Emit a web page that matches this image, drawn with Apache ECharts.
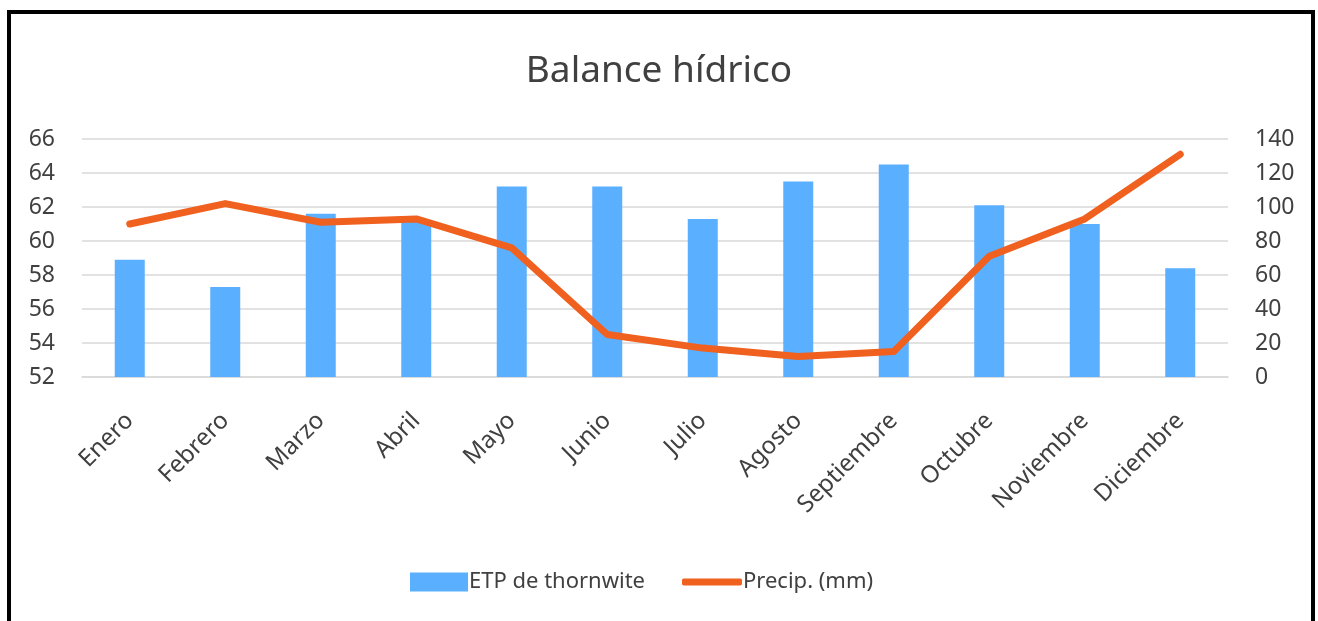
<!DOCTYPE html>
<html>
<head>
<meta charset="utf-8">
<script src="https://cdn.jsdelivr.net/npm/echarts@6/dist/echarts.min.js"></script>
<style>
  html, body { margin: 0; padding: 0; background: #fff; }
  #chart { width: 1318px; height: 621px; }
</style>
</head>
<body>
<div id="chart"></div>
<script>
// Monthly water balance: Thornthwaite PET (bars, left axis) and precipitation (line, right axis)
const months = ['Enero', 'Febrero', 'Marzo', 'Abril', 'Mayo', 'Junio', 'Julio',
                'Agosto', 'Septiembre', 'Octubre', 'Noviembre', 'Diciembre'];
const etp = [58.9, 57.3, 61.6, 61.2, 63.2, 63.2, 61.3, 63.5, 64.5, 62.1, 61.0, 58.4];
const precip = [90, 102, 91, 93, 76, 25, 17, 12, 15, 71, 93, 131];
const leftTicks = { min: 52, max: 66, step: 2 };
const rightTicks = { min: 0, max: 140, step: 20 };

const FONT = '"Noto Sans", "Open Sans", sans-serif';
const BLUE = '#5BAFFF';
const ORANGE = '#F0601F';
const TEXT = '#404040';

const chart = echarts.init(document.getElementById('chart'), null, { renderer: 'canvas' });

chart.setOption({
  backgroundColor: '#ffffff',
  animation: false,
  title: {
    text: 'Balance hídrico',
    left: 'center',
    top: 48,
    textStyle: { fontFamily: FONT, fontSize: 37, fontWeight: 'normal', color: TEXT }
  },
  graphic: [{
    type: 'rect',
    shape: { x: 9, y: 12, width: 1304, height: 640 },
    style: { fill: 'none', stroke: '#000', lineWidth: 4 },
    silent: true
  }],
  legend: [{
    left: 405, top: 566,
    itemWidth: 58, itemHeight: 19, itemGap: 20,
    data: [{ name: 'ETP de thornwite', icon: 'rect' }],
    textStyle: { fontFamily: FONT, fontSize: 22, color: TEXT, padding: [0, 0, 0, -4] }
  }, {
    left: 677, top: 566,
    itemWidth: 60, itemHeight: 7, itemGap: 20,
    data: [{ name: 'Precip. (mm)', icon: 'roundRect' }],
    textStyle: { fontFamily: FONT, fontSize: 22, color: TEXT, padding: [0, 0, 0, -4] }
  }],
  grid: { left: 82, right: 90, top: 139, bottom: 244, containLabel: false },
  xAxis: {
    type: 'category',
    data: months,
    axisLine: { lineStyle: { color: '#D9D9D9', width: 1.5 } },
    axisTick: { show: false },
    axisLabel: {
      rotate: 45, interval: 0, margin: 40,
      fontFamily: FONT, fontSize: 24, color: TEXT
    }
  },
  yAxis: [{
    type: 'value',
    min: leftTicks.min, max: leftTicks.max, interval: leftTicks.step,
    axisLine: { show: false }, axisTick: { show: false },
    splitLine: { lineStyle: { color: '#D9D9D9', width: 1.5 } },
    axisLabel: { fontFamily: FONT, fontSize: 23, color: TEXT, margin: 27, align: 'right' }
  }, {
    type: 'value',
    min: rightTicks.min, max: rightTicks.max, interval: rightTicks.step,
    axisLine: { show: false }, axisTick: { show: false },
    splitLine: { show: false },
    axisLabel: { fontFamily: FONT, fontSize: 23, color: TEXT, margin: 27, align: 'left' }
  }],
  series: [{
    name: 'ETP de thornwite',
    type: 'bar',
    yAxisIndex: 0,
    data: etp,
    barWidth: 30,
    itemStyle: { color: BLUE }
  }, {
    name: 'Precip. (mm)',
    type: 'line',
    yAxisIndex: 1,
    data: precip,
    symbol: 'none',
    lineStyle: { color: ORANGE, width: 7, join: 'round', cap: 'round' },
    itemStyle: { color: ORANGE }
  }]
});
</script>
</body>
</html>
